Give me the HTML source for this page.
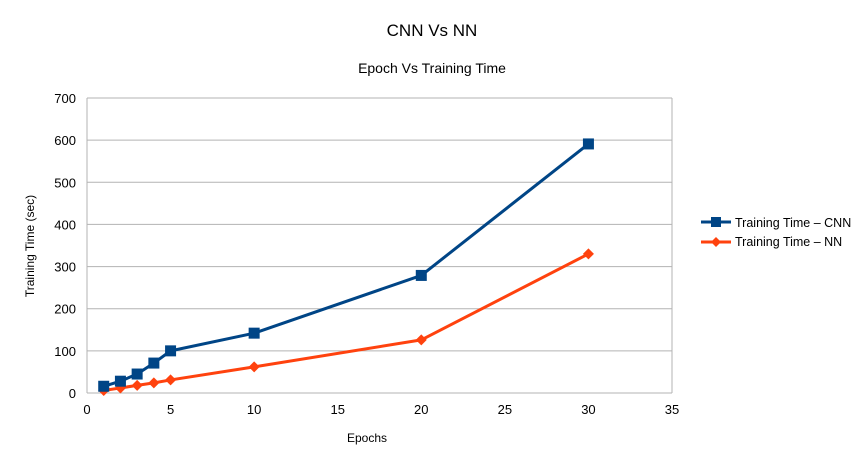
<!DOCTYPE html>
<html><head><meta charset="utf-8"><style>
body{margin:0;background:#fff;font-family:"Liberation Sans",sans-serif;}
svg text{font-family:"Liberation Sans",sans-serif;}
</style></head><body>
<svg width="864" height="464">
<text x="432" y="36" text-anchor="middle" font-size="17">CNN Vs NN</text>
<text x="432" y="73" text-anchor="middle" font-size="14">Epoch Vs Training Time</text>
<g id="grid"></g><g id="axes"></g><g id="series"></g>
<text x="367" y="442" text-anchor="middle" font-size="12">Epochs</text>
<text transform="translate(34,246) rotate(-90)" text-anchor="middle" font-size="12">Training Time (sec)</text>
<g>
<line x1="701" y1="222" x2="731" y2="222" stroke="#004586" stroke-width="3"/><rect x="711" y="217" width="10" height="10" fill="#004586"/>
<text x="735" y="227" font-size="12.5">Training Time – CNN</text></g>
<g>
<line x1="701" y1="242" x2="731" y2="242" stroke="#ff420e" stroke-width="3"/><polygon points="716,237 721,242 716,247 711,242" fill="#ff420e"/>
<text x="735" y="246" font-size="12.5">Training Time – NN</text></g>
</svg>
<script>
const epochs=[1,2,3,4,5,10,20,30];
const cnnTimes=[16,28,45,71,100,142,279,591];
const nnTimes=[6,12,18,24,31,62,126,330];
const yTicks=[0,100,200,300,400,500,600,700];
const xTicks=[0,5,10,15,20,25,30,35];
const NS="http://www.w3.org/2000/svg";
const L=87,R=672,T=98,B=393;
const xs=v=>L+(v/35)*(R-L), ys=v=>B-(v/700)*(B-T);
function mk(tag,at,parent){const e=document.createElementNS(NS,tag);for(const k in at)e.setAttribute(k,at[k]);document.getElementById(parent).appendChild(e);return e;}
yTicks.forEach(v=>{
 const l=mk('line',{x1:L,x2:R,y1:ys(v),y2:ys(v),stroke:'#b3b3b3','stroke-width':1},'grid');
 
 
 const t=mk('text',{x:L-11,y:ys(v)+5,'text-anchor':'end','font-size':13},'axes');t.textContent=v;
 
 
});
const rl=mk('line',{x1:R,x2:R,y1:T,y2:B,stroke:'#b3b3b3'},'grid');


const ll=mk('line',{x1:L,x2:L,y1:T,y2:B,stroke:'#b3b3b3'},'grid');


xTicks.forEach(v=>{
 const t=mk('text',{x:xs(v),y:B+21,'text-anchor':'middle','font-size':13},'axes');t.textContent=v;
 
 
});
function series(vals,color,shape,name){
 const p=mk('polyline',{points:epochs.map((e,i)=>xs(e)+','+ys(vals[i])).join(' '),fill:'none',stroke:color,'stroke-width':3,'stroke-linejoin':'round'},'series');
 
 
 epochs.forEach((e,i)=>{
  const x=xs(e),y=ys(vals[i]);let m;
  if(shape==='sq')m=mk('rect',{x:x-5.5,y:y-5.5,width:11,height:11,fill:color},'series');
  else m=mk('polygon',{points:`${x},${y-5.5} ${x+5.5},${y} ${x},${y+5.5} ${x-5.5},${y}`,fill:color},'series');
  
  
 });
}
series(nnTimes,'#ff420e','di','nn');
series(cnnTimes,'#004586','sq','cnn');
</script>
</body></html>
